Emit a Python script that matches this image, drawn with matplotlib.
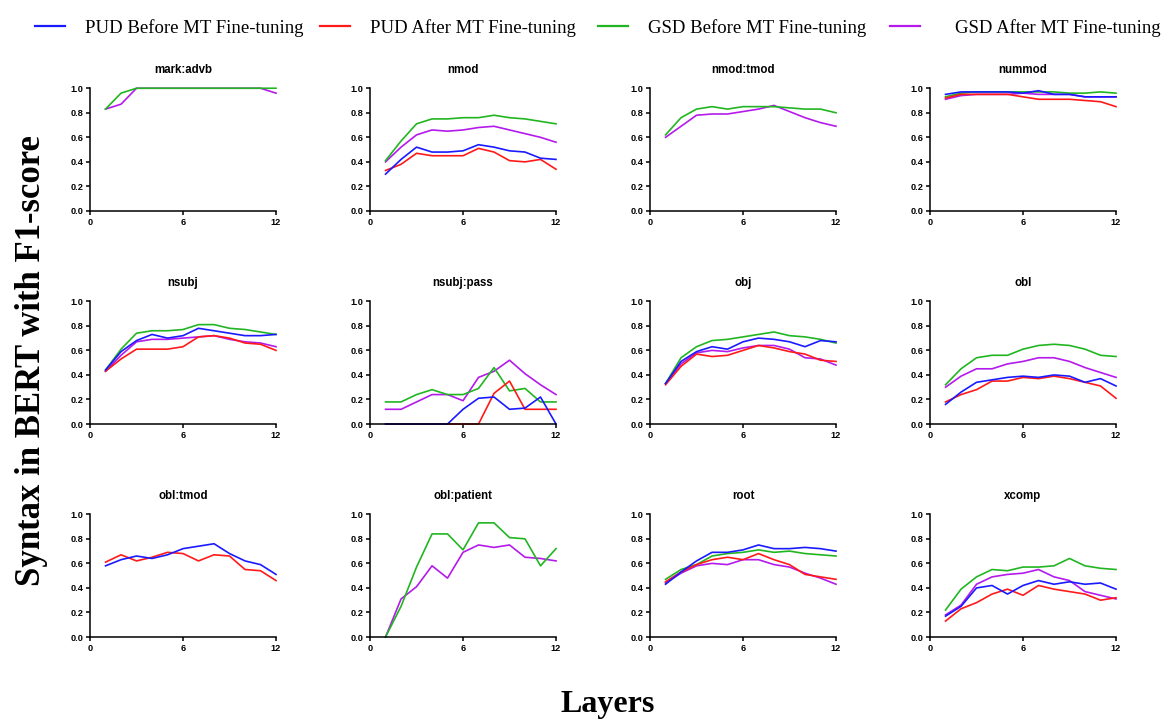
import matplotlib
matplotlib.use('Agg')
import matplotlib.pyplot as plt
import numpy as np

# Layers 1..12
layers = list(range(1, 13))

relations = ['mark:advb', 'nmod', 'nmod:tmod', 'nummod',
             'nsubj', 'nsubj:pass', 'obj', 'obl',
             'obl:tmod', 'obl:patient', 'root', 'xcomp']

series_names = ['PUD Before MT Fine-tuning', 'PUD After MT Fine-tuning',
                'GSD Before MT Fine-tuning', 'GSD After MT Fine-tuning']

# F1 per relation (None = relation missing from that treebank)
pud_before = {
    'mark:advb': None,
    'nmod': [0.30, 0.42, 0.52, 0.48, 0.48, 0.49, 0.54, 0.52, 0.49, 0.48, 0.43, 0.42],
    'nmod:tmod': None,
    'nummod': [0.95, 0.97, 0.97, 0.97, 0.97, 0.96, 0.98, 0.95, 0.95, 0.93, 0.93, 0.93],
    'nsubj': [0.44, 0.59, 0.68, 0.73, 0.70, 0.72, 0.78, 0.76, 0.74, 0.72, 0.72, 0.73],
    'nsubj:pass': [0.0, 0.0, 0.0, 0.0, 0.0, 0.12, 0.21, 0.22, 0.12, 0.13, 0.22, 0.0],
    'obj': [0.33, 0.51, 0.59, 0.63, 0.61, 0.67, 0.70, 0.69, 0.67, 0.63, 0.68, 0.67],
    'obl': [0.16, 0.26, 0.34, 0.36, 0.38, 0.39, 0.38, 0.40, 0.39, 0.34, 0.37, 0.31],
    'obl:tmod': [0.58, 0.63, 0.66, 0.64, 0.67, 0.72, 0.74, 0.76, 0.68, 0.62, 0.59, 0.51],
    'obl:patient': None,
    'root': [0.43, 0.53, 0.62, 0.69, 0.69, 0.71, 0.75, 0.72, 0.72, 0.73, 0.72, 0.70],
    'xcomp': [0.17, 0.25, 0.40, 0.42, 0.35, 0.42, 0.46, 0.43, 0.45, 0.43, 0.44, 0.39],
}
pud_after = {
    'mark:advb': None,
    'nmod': [0.33, 0.38, 0.47, 0.45, 0.45, 0.45, 0.51, 0.48, 0.41, 0.40, 0.42, 0.34],
    'nmod:tmod': None,
    'nummod': [0.92, 0.95, 0.95, 0.95, 0.95, 0.93, 0.91, 0.91, 0.91, 0.90, 0.89, 0.85],
    'nsubj': [0.43, 0.53, 0.61, 0.61, 0.61, 0.63, 0.71, 0.72, 0.70, 0.66, 0.65, 0.60],
    'nsubj:pass': [0.0, 0.0, 0.0, 0.0, 0.0, 0.0, 0.0, 0.25, 0.35, 0.12, 0.12, 0.12],
    'obj': [0.32, 0.47, 0.57, 0.55, 0.56, 0.60, 0.64, 0.62, 0.59, 0.57, 0.52, 0.51],
    'obl': [0.18, 0.24, 0.28, 0.35, 0.35, 0.38, 0.37, 0.39, 0.37, 0.34, 0.31, 0.21],
    'obl:tmod': [0.61, 0.67, 0.62, 0.65, 0.69, 0.68, 0.62, 0.67, 0.66, 0.55, 0.54, 0.46],
    'obl:patient': None,
    'root': [0.45, 0.53, 0.59, 0.63, 0.65, 0.63, 0.68, 0.63, 0.59, 0.51, 0.49, 0.47],
    'xcomp': [0.13, 0.23, 0.28, 0.35, 0.39, 0.34, 0.42, 0.39, 0.37, 0.35, 0.30, 0.32],
}
gsd_before = {
    'mark:advb': [0.83, 0.96, 1.0, 1.0, 1.0, 1.0, 1.0, 1.0, 1.0, 1.0, 1.0, 1.0],
    'nmod': [0.41, 0.57, 0.71, 0.75, 0.75, 0.76, 0.76, 0.78, 0.76, 0.75, 0.73, 0.71],
    'nmod:tmod': [0.62, 0.76, 0.83, 0.85, 0.83, 0.85, 0.85, 0.85, 0.84, 0.83, 0.83, 0.80],
    'nummod': [0.93, 0.96, 0.97, 0.97, 0.97, 0.97, 0.97, 0.97, 0.96, 0.96, 0.97, 0.96],
    'nsubj': [0.44, 0.61, 0.74, 0.76, 0.76, 0.77, 0.81, 0.81, 0.78, 0.77, 0.75, 0.73],
    'nsubj:pass': [0.18, 0.18, 0.24, 0.28, 0.24, 0.24, 0.29, 0.46, 0.27, 0.29, 0.18, 0.18],
    'obj': [0.33, 0.54, 0.63, 0.68, 0.69, 0.71, 0.73, 0.75, 0.72, 0.71, 0.69, 0.66],
    'obl': [0.32, 0.45, 0.54, 0.56, 0.56, 0.61, 0.64, 0.65, 0.64, 0.61, 0.56, 0.55],
    'obl:tmod': None,
    'obl:patient': [0.0, 0.25, 0.57, 0.84, 0.84, 0.71, 0.93, 0.93, 0.81, 0.80, 0.58, 0.72],
    'root': [0.47, 0.55, 0.59, 0.66, 0.68, 0.69, 0.71, 0.69, 0.70, 0.68, 0.67, 0.66],
    'xcomp': [0.22, 0.39, 0.49, 0.55, 0.54, 0.57, 0.57, 0.58, 0.64, 0.58, 0.56, 0.55],
}
gsd_after = {
    'mark:advb': [0.83, 0.87, 1.0, 1.0, 1.0, 1.0, 1.0, 1.0, 1.0, 1.0, 1.0, 0.96],
    'nmod': [0.40, 0.52, 0.62, 0.66, 0.65, 0.66, 0.68, 0.69, 0.66, 0.63, 0.60, 0.56],
    'nmod:tmod': [0.60, 0.69, 0.78, 0.79, 0.79, 0.81, 0.83, 0.86, 0.81, 0.76, 0.72, 0.69],
    'nummod': [0.91, 0.94, 0.95, 0.95, 0.95, 0.96, 0.95, 0.95, 0.95, 0.93, 0.93, 0.93],
    'nsubj': [0.43, 0.56, 0.67, 0.69, 0.69, 0.70, 0.71, 0.72, 0.69, 0.67, 0.66, 0.63],
    'nsubj:pass': [0.12, 0.12, 0.18, 0.24, 0.24, 0.19, 0.38, 0.43, 0.52, 0.41, 0.32, 0.24],
    'obj': [0.33, 0.49, 0.58, 0.60, 0.59, 0.62, 0.64, 0.64, 0.61, 0.54, 0.53, 0.48],
    'obl': [0.30, 0.39, 0.45, 0.45, 0.49, 0.51, 0.54, 0.54, 0.51, 0.46, 0.42, 0.38],
    'obl:tmod': None,
    'obl:patient': [0.0, 0.31, 0.41, 0.58, 0.48, 0.69, 0.75, 0.73, 0.75, 0.65, 0.64, 0.62],
    'root': [0.44, 0.52, 0.58, 0.60, 0.59, 0.63, 0.63, 0.59, 0.57, 0.52, 0.48, 0.43],
    'xcomp': [0.18, 0.26, 0.43, 0.49, 0.51, 0.52, 0.55, 0.49, 0.46, 0.37, 0.34, 0.31],
}

colors = ['#1a1aff', '#ff1a1a', '#22b522', '#b31aeb']
all_series = [pud_before, pud_after, gsd_before, gsd_after]
draw_order = [3, 2, 1, 0]

fig = plt.figure(figsize=(11.74, 7.22), dpi=100)

lefts = [0.0767, 0.3152, 0.5537, 0.7922]
bottoms = [0.7078, 0.4127, 0.1177]
w, h = 0.1584, 0.170

for i, rel in enumerate(relations):
    r, c = divmod(i, 4)
    ax = fig.add_axes([lefts[c], bottoms[r], w, h])
    for k in draw_order:
        vals = all_series[k][rel]
        if vals is None:
            continue
        ax.plot(layers, vals, color=colors[k], lw=1.2, clip_on=False)
    ax.set_xlim(0, 12)
    ax.set_ylim(0, 1.0)
    ax.set_xticks([0, 6, 12])
    ax.set_yticks(np.arange(0, 1.01, 0.2))
    ax.set_yticklabels([f'{v:.1f}' for v in np.arange(0, 1.01, 0.2)])
    for s in ['top', 'right']:
        ax.spines[s].set_visible(False)
    for s in ['left', 'bottom']:
        ax.spines[s].set_linewidth(1.1)
    ax.tick_params(direction='out', length=3, width=1.1, pad=2)
    for lab in ax.get_xticklabels() + ax.get_yticklabels():
        lab.set_fontfamily('Liberation Sans')
        lab.set_fontweight('bold')
        lab.set_fontsize(6.6)
    ax.set_title(rel, fontsize=8.3, fontweight='bold',
                 fontfamily='Liberation Sans', pad=11)

# legend entries laid out one by one, like the original
leg_x = [0.0298, 0.2726, 0.5094, 0.7581]
leg_pad = [1.05, 1.05, 1.05, 1.85]
for k in range(4):
    hdl = plt.Line2D([], [], color=colors[k], lw=1.6)
    fig.legend([hdl], [series_names[k]], loc='upper left',
               bbox_to_anchor=(leg_x[k], 0.974), frameon=False,
               borderaxespad=0, borderpad=0, handlelength=1.6,
               handletextpad=leg_pad[k],
               prop={'family': 'Liberation Serif', 'size': 13.5})

fig.text(0.027, 0.50, 'Syntax in BERT with F1-score', rotation=90,
         ha='center', va='center', fontsize=25, fontweight='bold',
         fontfamily='Liberation Serif')
fig.text(0.518, 0.024, 'Layers', ha='center', va='center', fontsize=23,
         fontweight='bold', fontfamily='Liberation Serif')

fig.savefig('out.png', dpi=100)
